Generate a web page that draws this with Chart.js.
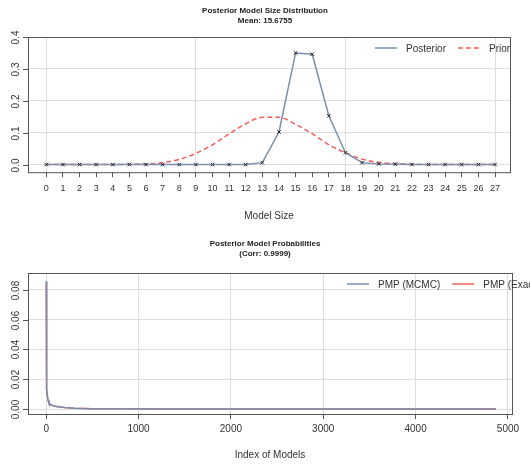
<!DOCTYPE html>
<html><head><meta charset="utf-8">
<script src="https://cdn.jsdelivr.net/npm/chart.js@4"></script>
<style>
body{margin:0;background:#fff;width:530px;height:465px;overflow:hidden}
.box{position:absolute;left:0;width:530px;height:232px}
</style></head><body>
<div class="box" style="top:0"><canvas id="c1" width="530" height="232"></canvas></div>
<div class="box" style="top:233px"><canvas id="c2" width="530" height="232"></canvas></div>
<script>
'use strict';
// model size distribution
const modelSizes = [0,1,2,3,4,5,6,7,8,9,10,11,12,13,14,15,16,17,18,19,20,21,22,23,24,25,26,27];
const posterior  = [0,0,0,0,0,0,0,0,0,0,0,0,0,0.006,0.102,0.350,0.346,0.153,0.037,0.006,0.002,0.001,0,0,0,0,0,0];
const prior      = [0,0,0,0,0,0.001,0.002,0.006,0.016,0.035,0.062,0.096,0.128,0.148,0.148,0.126,0.097,0.062,0.037,0.017,0.007,0.003,0.001,0,0,0,0,0];
// posterior model probabilities (sorted), index vs prob
const pmpIndex = [1,2,3,5,8,12,20,30,45,70,100,150,200,300,500,800,1200,2000,3000,4000,4870];
const pmpMcmc  = [0.086,0.060,0.031,0.020,0.013,0.009,0.006,0.004,0.003,0.0024,0.0019,0.0014,0.0010,0.0006,0.0003,0.00015,0.0001,0.00005,0.00003,0.00002,0.00001];
const pmpExact = [0.085,0.058,0.030,0.020,0.013,0.009,0.006,0.004,0.003,0.0024,0.0019,0.0014,0.0010,0.0006,0.0003,0.00015,0.0001,0.00005,0.00003,0.00002,0.00001];

const BLUE = '#7a8fb0', RED = '#f0605a', FONT = 'Liberation Sans, Arial, sans-serif';
Chart.defaults.font.family = FONT;
Chart.defaults.color = '#333';

function rPlot(title, sub, yTicks, yFmt, legend) {
  return {
    id: 'rplot',
    afterDraw(ch) {
      const c = ch.ctx, a = ch.chartArea, y = ch.scales.y;
      c.save();
      c.fillStyle = '#222'; c.textAlign = 'center';
      c.font = 'bold 8px ' + FONT;
      c.fillText(title, 265, 13); c.fillText(sub, 265, 23);
      c.strokeStyle = '#555'; c.lineWidth = 1;
      c.strokeRect(a.left + .5, a.top + .5, a.right - a.left, a.bottom - a.top);
      c.font = '10px ' + FONT;
      yTicks.forEach(v => {
        const py = Math.round(y.getPixelForValue(v)) + .5;
        c.beginPath(); c.moveTo(a.left - 5, py); c.lineTo(a.left, py); c.stroke();
        c.save(); c.translate(a.left - 9, py); c.rotate(-Math.PI / 2);
        c.fillStyle = '#333'; c.fillText(yFmt(v), 0, 0); c.restore();
      });
      // legend inside plot, top right
      let lx = a.right - legend.width, ly = a.top + 11;
      c.textAlign = 'left'; c.font = '10px ' + FONT;
      legend.items.forEach(it => {
        c.strokeStyle = it.color; c.lineWidth = 1.5; c.setLineDash(it.dash || []);
        c.beginPath(); c.moveTo(lx, ly); c.lineTo(lx + 22, ly); c.stroke();
        c.setLineDash([]); c.fillStyle = '#333';
        c.fillText(it.label, lx + 31, ly + 4);
        lx += 31 + c.measureText(it.label).width + 12;
      });
      c.restore();
    }
  };
}

const grid = { color: '#ddd', borderDash: [2, 2], drawTicks: true, tickLength: 5, tickColor: '#555' };

new Chart(document.getElementById('c1'), {
  type: 'line',
  data: { datasets: [
    { label: 'Posterior', data: modelSizes.map((m, i) => ({ x: m, y: posterior[i] })), borderColor: BLUE, borderWidth: 1.5,
      pointStyle: 'crossRot', pointRadius: 2.5, pointBorderColor: '#222', pointBorderWidth: 1, tension: 0 },
    { label: 'Prior', data: modelSizes.map((m, i) => ({ x: m, y: prior[i] })), borderColor: RED, borderWidth: 1.5,
      borderDash: [5, 3], pointRadius: 0, cubicInterpolationMode: 'monotone' }
  ]},
  options: {
    animation: false, responsive: false, devicePixelRatio: 1,
    layout: { padding: { left: 28, top: 37, right: 20, bottom: 6 } },
    plugins: { legend: { display: false }, tooltip: { enabled: false } },
    scales: {
      x: { type: 'linear', min: -1.1, max: 27.9, border: { display: false },
        afterBuildTicks: s => { s.ticks = modelSizes.map(v => ({ value: v })); },
        grid: { ...grid, color: ctx => [0, 9, 18, 27].includes(ctx.tick && ctx.tick.value) ? '#ddd' : 'rgba(0,0,0,0)' },
        ticks: { font: { size: 9 }, padding: 6, autoSkip: false, maxRotation: 0 },
        title: { display: true, text: 'Model Size', font: { size: 10 }, padding: { top: 10 } } },
      y: { min: -0.024, max: 0.4, border: { display: false },
        afterBuildTicks: s => { s.ticks = [0, 0.1, 0.2, 0.3, 0.4].map(v => ({ value: v })); },
        grid: { ...grid, drawTicks: false }, ticks: { display: false } }
    }
  },
  plugins: [rPlot('Posterior Model Size Distribution', 'Mean: 15.6755', [0, 0.1, 0.2, 0.3, 0.4], v => v.toFixed(1),
    { width: 135, items: [{ label: 'Posterior', color: BLUE }, { label: 'Prior', color: RED, dash: [5, 3] }] })]
});

new Chart(document.getElementById('c2'), {
  type: 'line',
  data: { datasets: [
    { label: 'PMP (MCMC)', data: pmpIndex.map((m, i) => ({ x: m, y: pmpMcmc[i] })), borderColor: BLUE, borderWidth: 1.5, pointRadius: 0 },
    { label: 'PMP (Exact)', data: pmpIndex.map((m, i) => ({ x: m, y: pmpExact[i] })), borderColor: RED, borderWidth: 1.5, pointRadius: 0 }
  ]},
  options: {
    animation: false, responsive: false, devicePixelRatio: 1,
    layout: { padding: { left: 28, top: 40, right: 18, bottom: 0 } },
    plugins: { legend: { display: false }, tooltip: { enabled: false } },
    scales: {
      x: { type: 'linear', min: -197, max: 5044, border: { display: false },
        afterBuildTicks: s => { s.ticks = [0, 1000, 2000, 3000, 4000, 5000].map(v => ({ value: v })); },
        grid: grid, ticks: { font: { size: 10 }, padding: 4, maxRotation: 0, callback: v => String(v) },
        title: { display: true, text: 'Index of Models', font: { size: 10 }, padding: { top: 10 } } },
      y: { min: -0.0033, max: 0.0913, border: { display: false },
        afterBuildTicks: s => { s.ticks = [0, 0.02, 0.04, 0.06, 0.08].map(v => ({ value: v })); },
        grid: { ...grid, drawTicks: false }, ticks: { display: false } }
    }
  },
  plugins: [rPlot('Posterior Model Probabilities', '(Corr: 0.9999)', [0, 0.02, 0.04, 0.06, 0.08], v => v.toFixed(2),
    { width: 165, items: [{ label: 'PMP (MCMC)', color: BLUE }, { label: 'PMP (Exact)', color: RED }] })]
});
</script>
</body></html>
